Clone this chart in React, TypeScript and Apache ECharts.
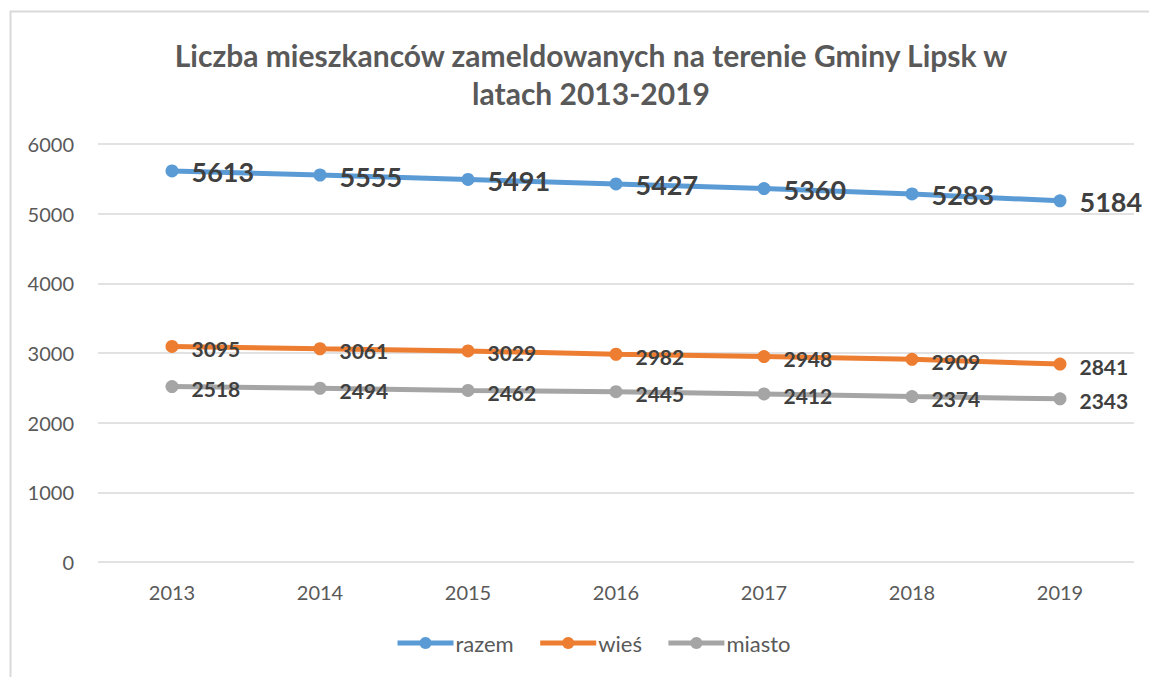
import React, { useEffect, useRef } from "react";
import * as echarts from "echarts";

const years = ["2013", "2014", "2015", "2016", "2017", "2018", "2019"];
const razem = [5613, 5555, 5491, 5427, 5360, 5283, 5184];
const wies = [3095, 3061, 3029, 2982, 2948, 2909, 2841];
const miasto = [2518, 2494, 2462, 2445, 2412, 2374, 2343];

const FONT = "Lato, 'Liberation Sans', sans-serif";

export default function App() {
  const ref = useRef<HTMLDivElement>(null);
  useEffect(() => {
    document.body.style.margin = "0";
    const chart = echarts.init(ref.current!, null, { renderer: "svg" });
    const mk = (name: string, data: number[], color: string, big: boolean) => ({
      name,
      type: "line",
      data,
      symbol: "circle",
      symbolSize: 13,
      lineStyle: { width: 5, color },
      itemStyle: { color },
      label: {
        show: true,
        position: "right",
        distance: 13,
        offset: [0, big ? 1 : 2],
        color: "#404040",
        fontFamily: FONT,
        fontWeight: "bold",
        fontSize: big ? 27 : 21,
      },
    });
    chart.setOption({
      animation: false,
      backgroundColor: "#fff",
      textStyle: { fontFamily: FONT },
      title: {
        text: "Liczba mieszkanców zameldowanych na terenie Gminy Lipsk w\nlatach 2013-2019",
        left: 586,
        textAlign: "center",
        top: 31,
        textStyle: {
          fontFamily: FONT,
          fontWeight: "bold",
          fontSize: 30,
          color: "#595959",
          lineHeight: 38,
        },
      },
      grid: { left: 98, right: 15, top: 144, bottom: 115 },
      xAxis: {
        type: "category",
        data: years,
        boundaryGap: true,
        axisLine: { show: false },
        axisTick: { show: false },
        axisLabel: { color: "#595959", fontSize: 20, margin: 20, fontFamily: FONT },
      },
      yAxis: {
        type: "value",
        min: 0,
        max: 6000,
        interval: 1000,
        axisLine: { show: false },
        axisTick: { show: false },
        axisLabel: {
          color: "#595959",
          fontSize: 20,
          margin: 24,
          fontFamily: FONT,
          formatter: (v: number) => String(v),
        },
        splitLine: { lineStyle: { color: "#d9d9d9", width: 1.5 } },
      },
      legend: {
        bottom: 18,
        left: 390,
        itemWidth: 56,
        itemHeight: 15,
        itemGap: 24,
        lineStyle: { width: 5 },
        textStyle: { color: "#595959", fontSize: 22, fontFamily: FONT, padding: [0, 0, 0, -3] },
        data: ["razem", "wieś", "miasto"],
      },
      graphic: [
        {
          type: "rect",
          shape: { x: 10.5, y: 11.5, width: 1200, height: 800 },
          style: { fill: "none", stroke: "#d9d9d9", lineWidth: 2 },
          silent: true,
        },
      ],
      series: [
        mk("razem", razem, "#5b9bd5", true),
        mk("wieś", wies, "#ed7d31", false),
        mk("miasto", miasto, "#a5a5a5", false),
      ],
    });
    return () => chart.dispose();
  }, []);
  return <div ref={ref} style={{ width: 1149, height: 677 }} />;
}
